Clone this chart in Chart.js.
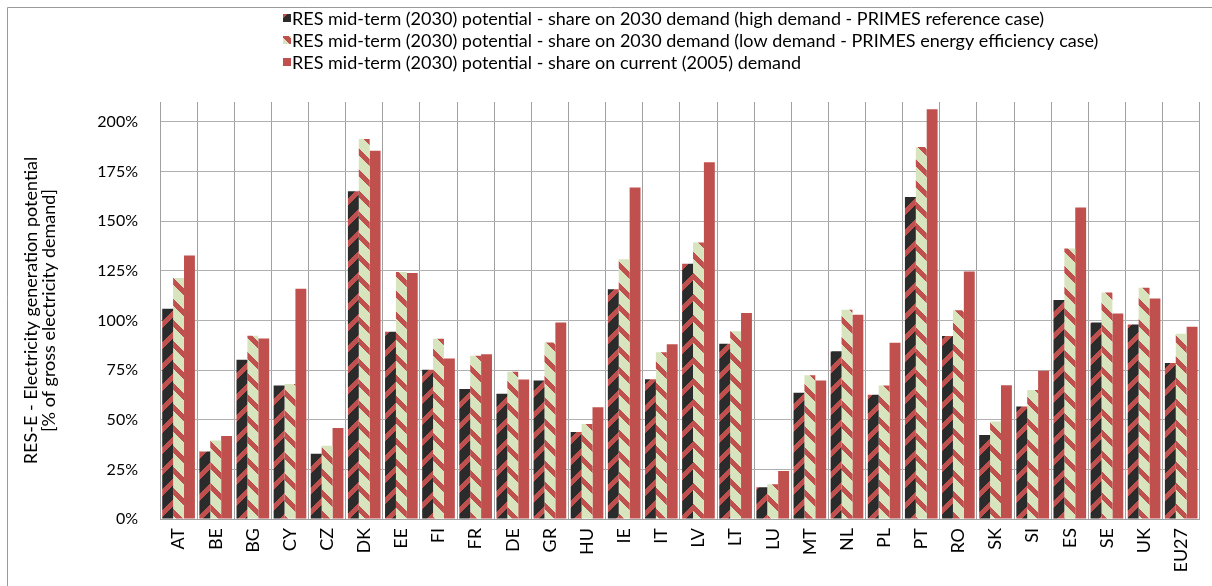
<!DOCTYPE html>
<html>
<head>
<meta charset="utf-8">
<script src="https://cdn.jsdelivr.net/npm/chart.js@4.4.0/dist/chart.umd.min.js"></script>
<style>
  body { margin: 0; background: #fff; }
</style>
</head>
<body>
<canvas id="resChart" width="1212" height="586"></canvas>
<script>
const countries = ['AT', 'BE', 'BG', 'CY', 'CZ', 'DK', 'EE', 'FI', 'FR', 'DE', 'GR', 'HU', 'IE', 'IT',
  'LV', 'LT', 'LU', 'MT', 'NL', 'PL', 'PT', 'RO', 'SK', 'SI', 'ES', 'SE', 'UK', 'EU27'];

// share on 2030 demand, high demand (PRIMES reference case)
const highDemandShare = [105.9, 34.0, 80.2, 67.2, 32.8, 165.0, 94.3, 75.1, 65.5, 63.1, 69.7, 43.8, 115.7, 70.4,
  128.6, 88.2, 16.0, 63.6, 84.5, 62.6, 162.1, 92.1, 42.3, 56.6, 110.3, 99.0, 98.0, 78.6];
// share on 2030 demand, low demand (PRIMES energy efficiency case)
const lowDemandShare = [121.4, 39.5, 92.3, 68.0, 36.9, 191.4, 124.4, 90.8, 82.2, 74.2, 88.9, 47.8, 130.8, 84.0,
  139.2, 94.6, 17.5, 72.4, 105.4, 67.2, 187.4, 105.1, 49.1, 65.0, 136.2, 114.1, 116.5, 93.3];
// share on current (2005) demand
const currentDemandShare = [132.7, 41.8, 90.9, 116.0, 45.8, 185.4, 123.9, 80.8, 83.0, 70.2, 99.0, 56.3, 167.0, 88.0,
  179.6, 103.7, 24.2, 69.7, 102.9, 88.7, 206.4, 124.7, 67.3, 74.7, 156.9, 103.5, 111.1, 96.8];

const seriesLabels = [
  'RES mid-term (2030) potential - share on 2030 demand (high demand - PRIMES reference case)',
  'RES mid-term (2030) potential - share on 2030 demand (low demand - PRIMES energy efficiency case)',
  'RES mid-term (2030) potential - share on current (2005) demand'
];
const yTicks = [0, 25, 50, 75, 100, 125, 150, 175, 200];

const FONT = 'Lato, "Open Sans", sans-serif';
const RED = '#c0504d';

// diagonal hatch, pixel by pixel so it stays crisp like the original
function makeHatch(bg, fg, rising) {
  const size = 21, band = 7;
  const c = document.createElement('canvas');
  c.width = size; c.height = size;
  const g = c.getContext('2d');
  g.fillStyle = bg;
  g.fillRect(0, 0, size, size);
  g.fillStyle = fg;
  for (let y = 0; y < size; y++) {
    for (let x = 0; x < size; x++) {
      const k = rising ? (x + y) % size : ((y - x) % size + size) % size;
      if (k < band) g.fillRect(x, y, 1, 1);
    }
  }
  return g.createPattern(c, 'repeat');
}

const ctx = document.getElementById('resChart').getContext('2d');
const darkHatch = makeHatch('#2b2b2b', RED, true);
const greenHatch = makeHatch('#d7e4bd', RED, false);

const legendBlock = {
  id: 'legendBlock',
  afterDraw(chart) {
    const c = chart.ctx;
    c.save();
    c.font = '18px ' + FONT;
    c.textBaseline = 'middle';
    chart.data.datasets.forEach((ds, i) => {
      const y = 18 + i * 22;
      c.fillStyle = ds.backgroundColor;
      c.fillRect(283, y - 4, 8, 8);
      c.fillStyle = '#000';
      c.fillText(ds.label, 292, y + 1);
    });
    c.restore();
  }
};

const frame = {
  id: 'frame',
  beforeDraw(chart) {
    const c = chart.ctx;
    c.save();
    c.strokeStyle = '#9a9a9a';
    c.lineWidth = 1;
    c.beginPath();
    c.moveTo(7.5, 600);
    c.lineTo(7.5, 7.5);
    c.lineTo(1220, 7.5);
    c.stroke();
    c.restore();
  }
};

new Chart(ctx, {
  type: 'bar',
  data: {
    labels: countries,
    datasets: [
      { label: seriesLabels[0], data: highDemandShare, backgroundColor: darkHatch },
      { label: seriesLabels[1], data: lowDemandShare, backgroundColor: greenHatch },
      { label: seriesLabels[2], data: currentDemandShare, backgroundColor: RED }
    ]
  },
  options: {
    responsive: false,
    animation: false,
    layout: { padding: { top: 102, left: 8, right: 11, bottom: 0 } },
    datasets: { bar: { categoryPercentage: 0.88, barPercentage: 1 } },
    plugins: {
      legend: { display: false },
      tooltip: { enabled: false }
    },
    scales: {
      x: {
        grid: { offset: true, color: '#a0a0a0', drawTicks: false },
        border: { color: '#a0a0a0' },
        ticks: {
          autoSkip: false, minRotation: 90, maxRotation: 90, padding: 9,
          color: '#000', font: { family: FONT, size: 18 }
        },
        afterFit: s => { s.height = 67; }
      },
      y: {
        min: 0,
        max: 210,
        afterBuildTicks: s => { s.ticks = yTicks.map(v => ({ value: v })); },
        grid: { color: '#b0b0b0', drawTicks: false },
        border: { color: '#a0a0a0' },
        ticks: {
          padding: 22, color: '#000', font: { family: FONT, size: 16 },
          callback: v => v + '%'
        },
        title: {
          display: true,
          text: ['RES-E - Electricity generation potential', '[% of gross electricity demand]'],
          color: '#000',
          padding: { top: 14, bottom: 0 },
          font: { family: FONT, size: 18, lineHeight: 1.0 }
        },
        afterFit: s => { s.width = 152; }
      }
    }
  },
  plugins: [legendBlock, frame]
});
</script>
</body>
</html>
